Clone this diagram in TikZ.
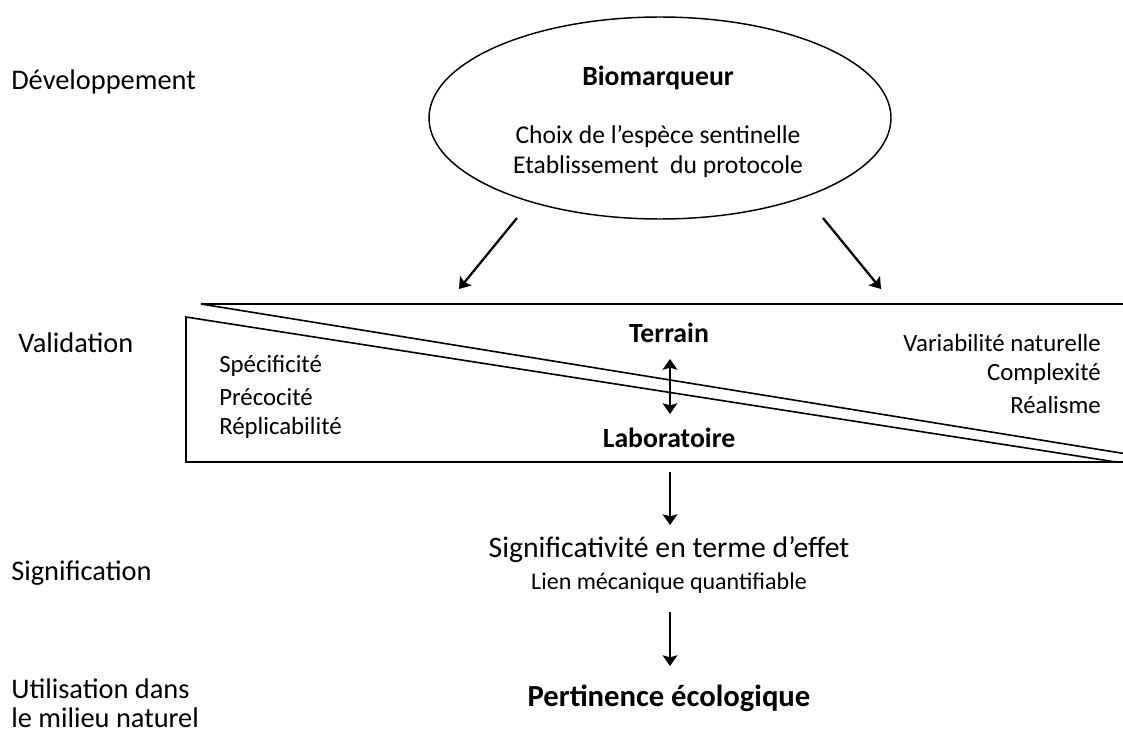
\documentclass[tikz,border=0pt]{standalone}
\usepackage{fontspec}
\setmainfont{Carlito}
\usetikzlibrary{shapes.geometric,arrows.meta}
\begin{document}
\begin{tikzpicture}[x=0.75pt,y=-0.75pt,
  side/.style={font=\fontsize{21.3pt}{25pt}\selectfont, inner sep=0pt},
  ell/.style={font=\fontsize{19.2pt}{23pt}\selectfont, inner sep=0pt},
  lst/.style={font=\fontsize{18.6pt}{22pt}\selectfont, inner sep=0pt},
  lblb/.style={font=\fontsize{20.8pt}{24pt}\selectfont\bfseries, inner sep=0pt},
  sml/.style={font=\fontsize{18pt}{22pt}\selectfont, inner sep=0pt},
  big/.style={font=\fontsize{22.3pt}{27pt}\selectfont, inner sep=0pt},
  bigb/.style={font=\fontsize{23pt}{27pt}\selectfont\bfseries, inner sep=0pt},
  tip/.tip={Stealth[length=8pt,width=11pt,inset=1.5pt]},
  arr/.style={line width=1.7pt, -tip},
  darr/.style={line width=1.7pt, tip-tip},
  tri/.style={line width=1.2pt, line join=miter}]
\useasboundingbox (0,0) rectangle (1123,731);
\clip (0,0) rectangle (1123,731);
% left labels
\node[side, anchor=west] (dev) at (11,82) {Développement};
\node[side, anchor=west] (val) at (18,343) {Validation};
\node[side, anchor=west] (sig) at (11,573) {Signification};
\node[side, anchor=west] (uti1) at (11,689) {Utilisation dans};
\node[side, anchor=west] (uti2) at (11,718) {le milieu naturel};
% ellipse
\node[draw, ellipse, line width=1.1pt, minimum width=462*0.75pt, minimum height=202*0.75pt, inner sep=0pt] (bio) at (660,118) {};
\node[lblb] (biot) at (658,78) {Biomarqueur};
\node[ell] (choix) at (658,137) {Choix de l’espèce sentinelle};
\node[ell] (etab) at (658,167) {Etablissement\ \ du protocole};
% arrows from ellipse
\coordinate (a1s) at (517,218); \coordinate (a1e) at (459,289);
\coordinate (a2s) at (823,218); \coordinate (a2e) at (881,289);
\draw[arr] (a1s) -- (a1e);
\draw[arr] (a2s) -- (a2e);
% upper triangle (runs past the right edge)
\coordinate (u1) at (201,304); \coordinate (u2) at (1130,304); \coordinate (u3) at (1130,454.5);
\draw[tri] (u3) -- (u1) -- (u2);
% lower triangle
\coordinate (l1) at (186,317); \coordinate (l2) at (186,462); \coordinate (l3) at (1116,462); \coordinate (l4) at (1130,462);
\draw[tri] (l3) -- (l1) -- (l2) -- (l4);
% inside texts
\node[lblb] (ter) at (669,333) {Terrain};
\node[lblb] (lab) at (669,438) {Laboratoire};
\coordinate (d1) at (670,359); \coordinate (d2) at (670,414);
\draw[darr] (d1) -- (d2);
\node[lst, anchor=west] (s1) at (219,366) {Spécificité};
\node[lst, anchor=west] (s2) at (219,397) {Précocité};
\node[lst, anchor=west] (s3) at (219,428) {Réplicabilité};
\node[lst, anchor=east] (r1) at (1101,343) {Variabilité naturelle};
\node[lst, anchor=east] (r2) at (1101,374) {Complexité};
\node[lst, anchor=east] (r3) at (1101,405) {Réalisme};
% bottom chain
\coordinate (b1s) at (670,472); \coordinate (b1e) at (670,525);
\draw[arr] (b1s) -- (b1e);
\node[big] (sigt) at (669,550) {Significativité en terme d’effet};
\node[sml] (lien) at (669,583) {Lien mécanique quantifiable};
\coordinate (b2s) at (670,612); \coordinate (b2e) at (670,666);
\draw[arr] (b2s) -- (b2e);
\node[bigb] (pert) at (669,698) {Pertinence écologique};
\end{tikzpicture}
\end{document}
